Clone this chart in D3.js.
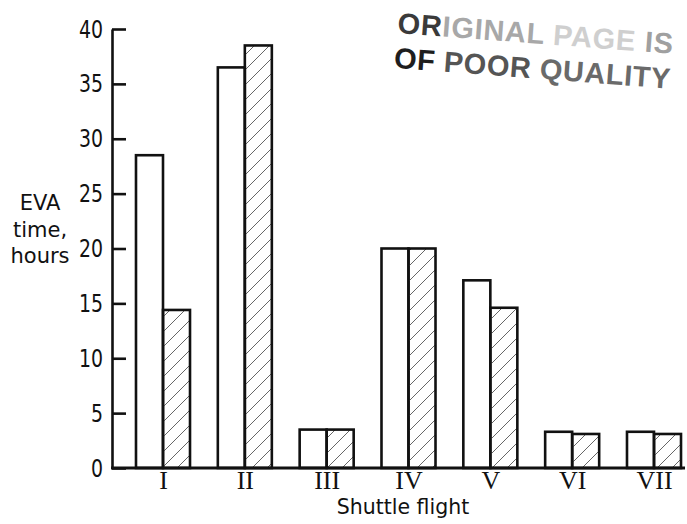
<!DOCTYPE html>
<html>
<head>
<meta charset="utf-8">
<script src="https://cdn.jsdelivr.net/npm/d3@7"></script>
<style>
  html, body { margin: 0; padding: 0; background: #fff; }
  svg { display: block; }
</style>
</head>
<body>
<div id="chart"></div>
<script>
// EVA time per shuttle flight, two series (open bar, hatched bar)
const flights = ['I', 'II', 'III', 'IV', 'V', 'VI', 'VII'];
const openHours = [28.5, 36.5, 3.5, 20, 17.1, 3.3, 3.3];
const hatchedHours = [14.4, 38.5, 3.5, 20, 14.6, 3.1, 3.1];
const yTicks = [0, 5, 10, 15, 20, 25, 30, 35, 40];
const yLabelLines = ['EVA', 'time,', 'hours'];
const xTitle = 'Shuttle flight';

const width = 687;
const height = 524;
const margin = { top: 29, right: 2, bottom: 55, left: 112 };

const svg = d3.select('#chart').append('svg').attr('width', width).attr('height', height);

// diagonal hatching for the second series
svg.append('defs')
  .append('pattern')
  .attr('id', 'hatch')
  .attr('patternUnits', 'userSpaceOnUse')
  .attr('width', 15)
  .attr('height', 15)
  .append('path')
  .attr('d', 'M0,15 L15,0 M-3,3 L3,-3 M12,18 L18,12')
  .attr('stroke', '#666')
  .attr('stroke-width', 1);

const y = d3.scaleLinear().domain([0, 40]).range([height - margin.bottom - 1, margin.top]);
const x = d3.scalePoint().domain(flights).range([163, 654]);
const barW = x.step() * 0.33;

const rows = flights.map((f, i) => ({ flight: f, open: openHours[i], hatched: hatchedHours[i] }));

// bars
const g = svg.append('g');
g.selectAll('rect.open')
  .data(rows)
  .join('rect')
  .attr('class', 'open')
  .attr('x', (d) => x(d.flight) - barW)
  .attr('y', (d) => y(d.open))
  .attr('width', barW)
  .attr('height', (d) => y(0) - y(d.open))
  .attr('fill', '#fff')
  .attr('stroke', '#111')
  .attr('stroke-width', 2.6);

g.selectAll('rect.hatched')
  .data(rows)
  .join('rect')
  .attr('class', 'hatched')
  .attr('x', (d) => x(d.flight))
  .attr('y', (d) => y(d.hatched))
  .attr('width', barW)
  .attr('height', (d) => y(0) - y(d.hatched))
  .attr('fill', 'url(#hatch)')
  .attr('stroke', '#111')
  .attr('stroke-width', 2.6);

// y axis: ticks point inward, labels outside (squeezed to look condensed)
const squeeze = 0.84;
svg.append('g')
  .attr('transform', `translate(${margin.left},0)`)
  .call(d3.axisLeft(y).tickValues(yTicks).tickSizeInner(-14).tickSizeOuter(0).tickPadding(9))
  .call((a) => a.select('.domain').attr('stroke', '#111').attr('stroke-width', 2.6))
  .call((a) => a.selectAll('.tick line').attr('stroke', '#111').attr('stroke-width', 2.6))
  .call((a) => a.selectAll('.tick text')
    .attr('x', -9 / squeeze)
    .attr('transform', `scale(${squeeze},1)`)
    .attr('fill', '#111')
    .style('font-family', "'DejaVu Sans Condensed', 'DejaVu Sans', sans-serif")
    .style('font-size', '25px'));

// baseline
svg.append('line')
  .attr('x1', margin.left - 1)
  .attr('x2', width - margin.right)
  .attr('y1', y(0))
  .attr('y2', y(0))
  .attr('stroke', '#111')
  .attr('stroke-width', 2.8);

// x category labels
svg.append('g')
  .attr('transform', `translate(0,${y(0)})`)
  .call(d3.axisBottom(x).tickSize(0).tickPadding(0))
  .call((a) => a.select('.domain').remove())
  .call((a) => a.selectAll('.tick text')
    .attr('y', 21)
    .attr('dy', 0)
    .attr('fill', '#111')
    .style('font-family', "'Liberation Serif', 'DejaVu Serif', serif")
    .style('font-size', '26px'));

// axis titles
svg.append('text')
  .attr('x', 403)
  .attr('y', 514)
  .attr('text-anchor', 'middle')
  .attr('fill', '#111')
  .style('font-family', "'DejaVu Sans', sans-serif")
  .style('font-size', '20.5px')
  .text(xTitle);

svg.append('text')
  .attr('text-anchor', 'middle')
  .attr('fill', '#111')
  .style('font-family', "'DejaVu Sans', sans-serif")
  .style('font-size', '21px')
  .selectAll('tspan')
  .data(yLabelLines)
  .join('tspan')
  .attr('x', 40)
  .attr('y', (d, i) => 210 + i * 26.5)
  .text((d) => d);

// rubber stamp
const stamp = svg.append('g')
  .attr('transform', 'translate(397,33) rotate(4.3)')
  .style('font-family', "'Liberation Sans', Arial, sans-serif")
  .style('font-weight', 'bold')
  .style('font-size', '29px');

const line1 = stamp.append('text').attr('x', 0).attr('y', 0).attr('textLength', 276).attr('lengthAdjust', 'spacing');
line1.append('tspan').attr('fill', '#3a3a3a').text('OR');
line1.append('tspan').attr('fill', '#a8a8a8').text('IGINAL  ');
line1.append('tspan').attr('fill', '#cfcfcf').text('PAGE ');
line1.append('tspan').attr('fill', '#a0a0a0').text('IS');

const line2 = stamp.append('text').attr('x', -1).attr('y', 35).attr('textLength', 277).attr('lengthAdjust', 'spacing');
line2.append('tspan').attr('fill', '#1e1e1e').text('OF ');
line2.append('tspan').attr('fill', '#555').text('POOR ');
line2.append('tspan').attr('fill', '#6a6a6a').text('QUALITY');
</script>
</body>
</html>
